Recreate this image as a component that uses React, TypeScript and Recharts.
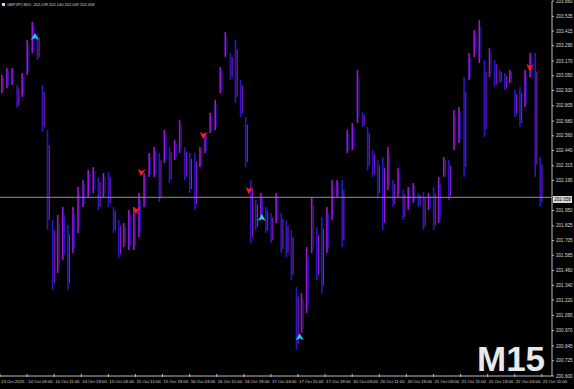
import React from 'react';
import { ComposedChart, Bar, Scatter, XAxis, YAxis, ReferenceLine } from 'recharts';

// 90-minute blocks (high / low)
const highs = [
  203.056, 203.113, 203.113, 202.975, 203.072, 203.342, 203.489, 203.399, 202.975, 202.607,
  201.873, 201.914, 201.979, 201.832, 201.979, 202.142, 202.199, 202.281, 202.305, 202.224,
  202.256, 202.265, 201.979, 201.873, 201.848, 201.955, 201.979, 202.093, 202.256, 202.420,
  202.469, 202.420, 202.607, 202.469, 202.526, 202.689, 202.469, 202.420, 202.420, 202.469,
  202.583, 202.746, 202.852, 203.121, 203.407, 203.236, 203.342, 203.015, 202.713, 202.199,
  202.036, 202.093, 201.979, 201.930, 202.093, 201.930, 201.873, 201.791, 201.326, 201.277,
  201.653, 202.061, 201.816, 201.897, 201.979, 202.199, 202.199, 202.199, 202.607, 202.664,
  203.097, 202.754, 202.632, 202.444, 202.363, 202.387, 202.469, 202.199, 202.297, 202.118,
  202.142, 202.175, 202.093, 202.101, 202.093, 202.142, 202.224, 202.387, 202.363, 202.771,
  202.795, 203.040, 203.236, 203.423, 203.505, 203.179, 203.276, 203.179, 203.097, 203.072,
  203.097, 202.934, 202.958, 203.097, 203.236, 203.236, 202.387,
];
const lows = [
  202.909, 202.950, 202.975, 202.787, 202.877, 203.056, 203.236, 203.179, 202.591, 201.791,
  201.302, 201.440, 201.547, 201.302, 201.604, 201.767, 201.979, 202.061, 202.093, 201.955,
  202.061, 201.979, 201.767, 201.563, 201.653, 201.628, 201.628, 201.734, 201.979, 202.224,
  202.224, 202.020, 202.338, 202.175, 202.363, 202.420, 202.199, 202.093, 201.955, 202.305,
  202.420, 202.583, 202.607, 202.909, 203.203, 203.015, 202.828, 202.713, 202.305, 201.685,
  201.791, 201.873, 201.767, 201.685, 201.848, 201.604, 201.571, 201.383, 200.812, 200.951,
  201.114, 201.604, 201.383, 201.277, 201.604, 201.873, 202.061, 201.653, 202.420, 202.444,
  202.664, 202.632, 202.281, 202.224, 202.061, 201.791, 202.118, 201.979, 202.061, 201.873,
  201.955, 202.012, 201.979, 201.791, 201.955, 201.791, 201.848, 202.224, 202.036, 202.444,
  202.501, 202.224, 203.015, 203.203, 203.154, 202.550, 203.040, 202.958, 202.991, 202.934,
  202.991, 202.713, 202.632, 202.795, 203.040, 202.224, 201.979,
];

const timeLabels = [
  '13 Oct 2025', '14 Oct 03:00', '14 Oct 11:00', '14 Oct 19:00', '15 Oct 03:00', '15 Oct 11:00',
  '15 Oct 19:00', '16 Oct 03:00', '16 Oct 11:00', '16 Oct 19:00', '17 Oct 03:00', '17 Oct 11:00',
  '17 Oct 19:00', '20 Oct 03:00', '20 Oct 11:00', '20 Oct 19:00', '21 Oct 03:00', '21 Oct 11:00',
  '21 Oct 19:00', '22 Oct 03:00', '22 Oct 11:00',
];

const priceTicks = [
  203.66, 203.535, 203.415, 203.295, 203.17, 203.05, 202.93, 202.805, 202.68, 202.56, 202.44,
  202.315, 202.195, 201.95, 201.825, 201.705, 201.585, 201.46, 201.34, 201.22, 201.095, 200.97,
  200.845, 200.725, 200.6,
];

const lastPrice = 202.058;

// signal arrows (hours from start, price)
const buyTimes = [10.3, 77.3, 88.5];
const buyPrices = [203.366, 201.889, 200.917];
const sellTimes = [40.4, 41.9, 60.2, 73.7, 156.6];
const sellPrices = [201.954, 202.264, 202.566, 202.117, 203.121];

const UP = '#9c16d6';
const DOWN = '#2418c8';
const FONT = '"Liberation Sans", Arial, sans-serif';

const bars = highs.map((h, i) => ({
  t: i * 1.5 + 0.75,
  range: [lows[i], h],
  up: i === 0 || h + lows[i] >= highs[i - 1] + lows[i - 1],
}));
const buys = buyTimes.map((t, i) => ({ t, p: buyPrices[i] }));
const sells = sellTimes.map((t, i) => ({ t, p: sellPrices[i] }));

const Stick = (props: any) => {
  const { x, y, width, height, payload } = props;
  const cx = x + width / 2;
  return (
    <g>
      <rect x={cx - 1.5} y={y} width={1.6} height={height} fill={payload.up ? UP : DOWN} />
      <rect x={cx + 0.5} y={y + height * 0.15} width={1} height={height * 0.75} fill={payload.up ? DOWN : UP} />
    </g>
  );
};

const BuyArrow = (props: any) => {
  const { cx, cy } = props;
  return (
    <polygon
      points={`${cx},${cy - 4} ${cx + 4},${cy + 3} ${cx},${cy + 1} ${cx - 4},${cy + 3}`}
      fill="#16d6f2"
    />
  );
};

const SellArrow = (props: any) => {
  const { cx, cy } = props;
  return (
    <polygon
      points={`${cx - 1},${cy + 4} ${cx - 4},${cy - 3} ${cx},${cy - 1} ${cx + 4},${cy - 3}`}
      fill="#ff1a1a"
    />
  );
};

const PriceTick = (props: any) => {
  const { x, y, payload } = props;
  return (
    <g>
      <line x1={x} x2={x + 2} y1={y} y2={y} stroke="#bdbdbd" />
      <text x={x + 4} y={y + 1.6} fill="#d8d8d8" fontSize={4.6} fontFamily={FONT}>
        {payload.value.toFixed(3)}
      </text>
    </g>
  );
};

const TimeTick = (props: any) => {
  const { x, y, payload } = props;
  return (
    <g>
      <line x1={x} x2={x} y1={y - 2} y2={y + 1} stroke="#bdbdbd" />
      <text x={x + 1} y={y + 6.5} fill="#d8d8d8" fontSize={4.3} fontFamily={FONT}>
        {timeLabels[payload.value / 8]}
      </text>
    </g>
  );
};

export default function App() {
  return (
    <div style={{ position: 'fixed', left: 0, top: 0, width: 574, height: 389, background: '#000', overflow: 'hidden' }}>
      <ComposedChart width={574} height={389} data={bars} margin={{ top: 1, right: 0, bottom: 0, left: 0 }}>
        <XAxis
          type="number"
          dataKey="t"
          domain={[0, 163]}
          ticks={timeLabels.map((_, i) => i * 8)}
          allowDataOverflow
          height={13}
          stroke="#bdbdbd"
          tickLine={false}
          tickSize={0}
          tickMargin={0}
          tick={<TimeTick />}
          interval={0}
        />
        <YAxis
          orientation="right"
          type="number"
          domain={[200.6, 203.66]}
          ticks={priceTicks}
          allowDataOverflow
          width={22}
          stroke="#bdbdbd"
          tickLine={false}
          tickSize={0}
          tickMargin={0}
          tick={<PriceTick />}
          interval={0}
        />
        <ReferenceLine y={lastPrice} stroke="#909090" strokeWidth={1} />
        <Bar dataKey="range" barSize={3} shape={<Stick />} isAnimationActive={false} />
        <Scatter data={buys} dataKey="p" shape={<BuyArrow />} isAnimationActive={false} />
        <Scatter data={sells} dataKey="p" shape={<SellArrow />} isAnimationActive={false} />
      </ComposedChart>
      <div style={{ position: 'absolute', left: 2, top: 2, display: 'flex', alignItems: 'center', gap: 2, fontFamily: FONT, fontSize: 4, color: '#d8d8d8', whiteSpace: 'nowrap' }}>
        <span style={{ width: 3, height: 3, background: '#d8d8d8', display: 'inline-block' }} />
        <span>GBPJPY,M15&nbsp;&nbsp;202.078 202.140 202.049 202.058</span>
      </div>
      <div style={{ position: 'absolute', left: 553, top: 196, width: 19, height: 7, background: '#d8d8d8', color: '#000', fontFamily: FONT, fontSize: 4.6, lineHeight: '7px', textAlign: 'center' }}>
        {lastPrice.toFixed(3)}
      </div>
      <div style={{ position: 'absolute', left: 477, top: 341, fontFamily: FONT, fontSize: 35, fontWeight: 'bold', color: '#e8e8e8', lineHeight: 1 }}>
        M15
      </div>
    </div>
  );
}
